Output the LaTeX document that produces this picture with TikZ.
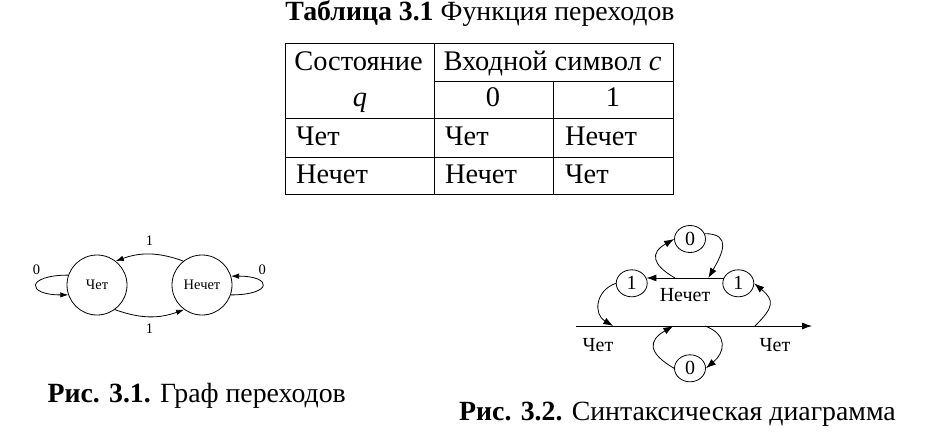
\documentclass[tikz,border=0pt]{standalone}
\usepackage{fontspec}
\setmainfont{Liberation Serif}
\usetikzlibrary{arrows.meta}
\usetikzlibrary{shapes.geometric}
\tikzstyle{cell}=[inner sep=0, font=\fontsize{28.4}{31}\selectfont]
\tikzstyle{caption}=[inner sep=0, font=\fontsize{27.8}{31}\selectfont]
\tikzstyle{grid line}=[line width=1pt]
\tikzstyle{state}=[draw, circle, minimum size=60, inner sep=0, line width=0.8pt, font=\fontsize{14.5}{16}\selectfont]
\tikzstyle{small label}=[inner sep=0, font=\fontsize{14.5}{16}\selectfont]
\tikzstyle{trans}=[line width=0.8pt, -{Latex[length=8pt,width=5.5pt]}]
\tikzstyle{symbol}=[draw, ellipse, minimum width=31, minimum height=27, inner sep=0, line width=0.8pt, font=\fontsize{20}{22}\selectfont]
\tikzstyle{rail}=[line width=0.8pt, -{Latex[length=10pt,width=7pt]}]
\tikzstyle{rail label}=[inner sep=0, font=\fontsize{20}{22}\selectfont]

\begin{document}
\begin{tikzpicture}[x=1pt, y=1pt]
  \useasboundingbox (0,0) rectangle (925,-440);

  % table
  \node[caption, anchor=base] (title) at (480,-20.5) {\textbf{Таблица 3.1} Функция переходов};
  \draw[grid line] (285,-43) rectangle (673,-194);
  \foreach \y in {118,157}
    \draw[grid line] (285,-\y) -- (673,-\y);
  \draw[grid line] (434,-81) -- (673,-81)
    (434,-43) -- (434,-194)
    (553,-81) -- (553,-194);
  \node[cell, anchor=base] (hstate) at (358.5,-70) {Состояние};
  \node[cell, anchor=base] (hq) at (360,-106.7) {\textit{q}};
  \node[cell, anchor=base] (hinput) at (552.5,-70) {Входной символ \textit{c}};
  \node[cell, anchor=base] (hzero) at (493,-106.7) {0};
  \node[cell, anchor=base] (hone) at (613,-106.7) {1};
  \node[cell, anchor=base west] (q1) at (296,-145) {Чет};
  \node[cell, anchor=base west] (q1zero) at (445,-145) {Чет};
  \node[cell, anchor=base west] (q1one) at (565,-145) {Нечет};
  \node[cell, anchor=base west] (q2) at (296,-183.3) {Нечет};
  \node[cell, anchor=base west] (q2zero) at (445,-183.3) {Нечет};
  \node[cell, anchor=base west] (q2one) at (565,-183.3) {Чет};

  % transition graph
  \node[state] (chet) at (97,-285) {Чет};
  \node[state] (nechet) at (202,-285) {Нечет};
  \draw[trans] (nechet.128) to[out=160, in=20]
    node[small label, above=8.7pt] {1} (chet.52);
  \draw[trans] (chet.-54) to[out=-20, in=-160]
    node[small label, below=7pt] {1} (nechet.-126);
  \draw[trans] (chet.161) to[out=180, in=180, looseness=5.5]
    node[small label, above=10pt] {0} (chet.199);
  \draw[trans] (nechet.-19) to[out=0, in=0, looseness=5.7]
    node[small label, above=10pt] {0} (nechet.17);

  % syntax diagram
  \node[symbol] (top0) at (690,-239) {0};
  \node[symbol] (left1) at (631.7,-283.3) {1};
  \node[symbol] (right1) at (738.3,-283.3) {1};
  \node[symbol] (bot0) at (690,-368.3) {0};
  \coordinate (railstart) at (576,-326);
  \coordinate (railend) at (812,-326);
  \coordinate (up1) at (675,-278);
  \coordinate (up2) at (708.3,-278);
  \coordinate (down1) at (673.3,-326);
  \coordinate (down2) at (705,-326);
  \coordinate (back) at (613.3,-326);
  \coordinate (fork) at (755,-326);
  \draw[rail] (railstart) --
    node[rail label, pos=0.093, below=12pt] (chetin) {Чет}
    node[rail label, pos=0.843, below=12pt] (chetout) {Чет} (railend);
  \draw[rail] (right1.160) -- node[rail label, below=9.7pt] (nechetlbl) {Нечет} (left1.20);
  \draw[rail] (up1) to[out=150, in=-150, looseness=1.8] (top0.west);
  \draw[rail] (top0.20) to[out=0, in=60, looseness=1.6] (up2);
  \draw[rail] (left1.west) to[out=200, in=150, looseness=1.35] (back);
  \draw[rail] (fork) to[out=45, in=-40, looseness=1.6] (right1.east);
  \draw[rail] (bot0.west) to[out=150, in=-150, looseness=1.8] (down1);
  \draw[rail] (down2) to[out=-20, in=40, looseness=1.5] (bot0.east);

  \node[caption, anchor=base] (cap1) at (196.7,-402.3) {\textbf{Рис. 3.1.} Граф переходов};
  \node[caption, anchor=base] (cap2) at (677.5,-420.7) {\textbf{Рис. 3.2.} Синтаксическая диаграмма};
\end{tikzpicture}
\end{document}
